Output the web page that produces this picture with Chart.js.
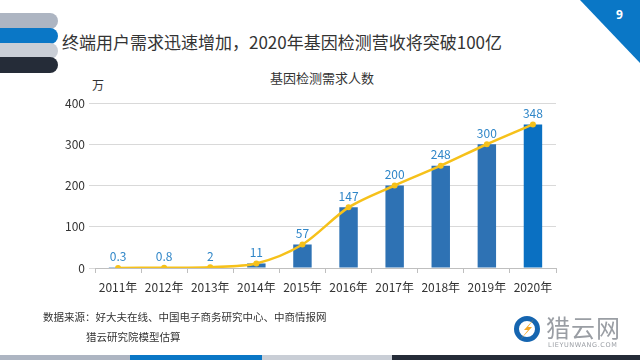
<!DOCTYPE html>
<html>
<head>
<meta charset="utf-8">
<script src="https://cdn.jsdelivr.net/npm/chart.js@4"></script>
<style>
    body { margin: 0; width: 640px; height: 360px; overflow: hidden; background: #fff;
        font-family: "Noto Sans CJK SC", "Noto Sans", sans-serif; position: relative; }
    .abs { position: absolute; }
    .stripe { position: absolute; left: 0; width: 58px; height: 16px; border-radius: 0 8px 8px 0; }
    #chart { position: absolute; left: 0; top: 0; }
</style>
</head>
<body>
<!-- header decoration -->
<div class="stripe" style="top:13px;background:#ADB5C2;"></div>
<div class="stripe" style="top:28px;background:#0A77C6;"></div>
<div class="stripe" style="top:43px;background:#C9CED6;"></div>
<div class="stripe" style="top:57px;background:#252C38;"></div>
<div class="abs" style="right:0;top:0;width:60px;height:63px;background:#0A77C6;clip-path:polygon(0 0,100% 0,100% 100%);"></div>
<div class="abs" style="left:616px;top:6px;color:#fff;font-size:12px;font-weight:bold;font-family:'Open Sans',sans-serif;">9</div>
<div class="abs" style="left:62px;top:29px;font-size:17px;color:#333;">终端用户需求迅速增加，2020年基因检测营收将突破100亿</div>

<div class="abs" style="left:0;top:68px;width:644px;text-align:center;font-size:13px;color:#333;">基因检测需求人数</div>
<div class="abs" style="left:92px;top:76px;font-size:12px;color:#333;">万</div>

<canvas id="chart" width="640" height="360"></canvas>

<div class="abs" style="left:43px;top:309px;font-size:10.5px;color:#333;">数据来源：好大夫在线、中国电子商务研究中心、中商情报网</div>
<div class="abs" style="left:86px;top:329px;font-size:10.5px;color:#333;">猎云研究院模型估算</div>

<!-- logo -->
<svg class="abs" style="left:513px;top:315px;" width="28" height="28" viewBox="0 0 28 28">
    <circle cx="14" cy="14" r="10.5" fill="none" stroke="#1565B0" stroke-width="5"/>
    <path d="M21 4 L11 15 L15 15 L7 25 L19 12 L15 12 Z" fill="#F5A623"/>
</svg>
<div class="abs" style="left:546px;top:309px;font-size:24px;color:#9A9EA4;letter-spacing:1px;">猎云网</div>
<div class="abs" style="left:548px;top:341px;font-size:6.5px;color:#9A9EA4;letter-spacing:0.6px;font-family:'DejaVu Sans',sans-serif;">LIEYUNWANG.COM</div>

<!-- footer stripe -->
<div class="abs" style="left:0;top:355px;width:130px;height:5px;background:#ADB5C2;"></div>
<div class="abs" style="left:130px;top:355px;width:132px;height:5px;background:#0A77C6;"></div>
<div class="abs" style="left:262px;top:355px;width:130px;height:5px;background:#C9CED6;"></div>
<div class="abs" style="left:392px;top:355px;width:248px;height:5px;background:#252C38;"></div>

<script>
const years = ['2011年', '2012年', '2013年', '2014年', '2015年', '2016年', '2017年', '2018年', '2019年', '2020年'];
const demand = [0.3, 0.8, 2, 11, 57, 147, 200, 248, 300, 348];
const valueLabels = ['0.3', '0.8', '2', '11', '57', '147', '200', '248', '300', '348'];
const barColors = ['#2E72B4', '#2E72B4', '#2E72B4', '#2E72B4', '#2E72B4', '#2E72B4', '#2E72B4', '#2E72B4', '#2E72B4', '#0A70C2'];

const FONT = '"Noto Sans CJK SC", "Noto Sans", sans-serif';

// value labels above the line points
const pointLabels = {
    id: 'pointLabels',
    afterDatasetsDraw(chart) {
        const ctx = chart.ctx;
        const meta = chart.getDatasetMeta(1);
        ctx.save();
        ctx.font = '12px ' + FONT;
        ctx.fillStyle = '#2F86C8';
        ctx.textAlign = 'center';
        ctx.textBaseline = 'bottom';
        meta.data.forEach((pt, i) => {
            ctx.fillText(valueLabels[i], pt.x, pt.y - 5);
        });
        ctx.restore();
    }
};

new Chart(document.getElementById('chart'), {
    data: {
        labels: years,
        datasets: [
            {
                type: 'line',
                data: demand,
                borderColor: '#F6C11A',
                backgroundColor: '#F6C11A',
                borderWidth: 2.5,
                pointRadius: 3,
                pointBorderWidth: 0,
                tension: 0.3,
                order: 0
            },
            {
                type: 'bar',
                data: demand,
                backgroundColor: barColors,
                categoryPercentage: 1,
                barPercentage: 0.4,
                order: 1
            }
        ]
    },
    options: {
        responsive: false,
        animation: false,
        layout: { padding: { left: 0, right: 84, top: 103, bottom: 62 } },
        plugins: { legend: { display: false }, tooltip: { enabled: false } },
        scales: {
            x: {
                grid: { offset: true, drawOnChartArea: false, tickLength: 5, color: '#BFBFBF' },
                border: { color: '#BFBFBF' },
                ticks: { font: { size: 12, family: FONT }, color: '#333', padding: 7, maxRotation: 0 },
                afterFit(axis) { axis.height = 30; }
            },
            y: {
                min: 0,
                max: 400,
                ticks: { stepSize: 100, font: { size: 12, family: FONT }, color: '#333', padding: 4 },
                grid: { color: '#D9D9D9', tickLength: 6 },
                border: { display: false },
                afterFit(axis) { axis.width = 95; }
            }
        }
    },
    plugins: [pointLabels]
});
</script>
</body>
</html>
